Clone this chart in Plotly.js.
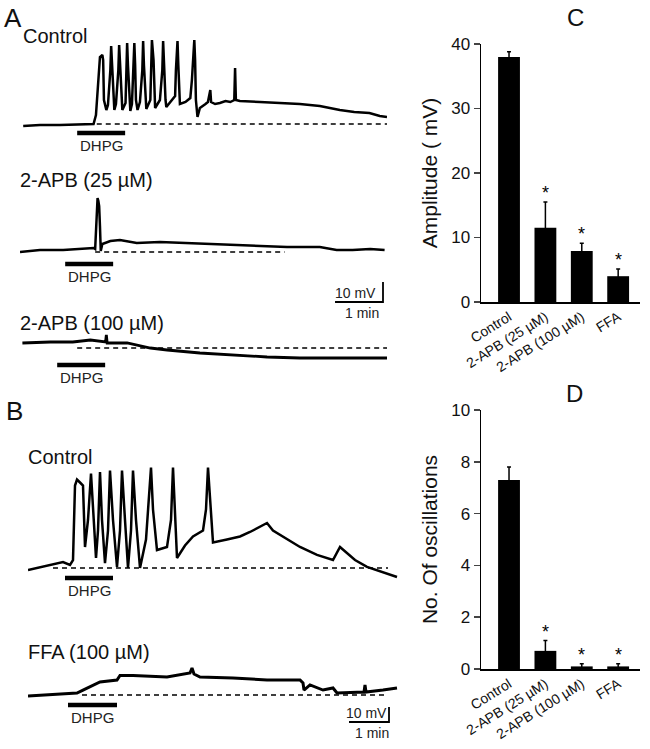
<!DOCTYPE html>
<html>
<head>
<meta charset="utf-8">
<script src="https://cdn.plot.ly/plotly-3.0.1.min.js"></script>
<style>html,body{margin:0;padding:0;background:#fff}</style>
</head>
<body>
<div id="chart" style="width:650px;height:749px"></div>
<script>
// ---- C / D bar values ----
const groups = ['Control', '2-APB (25 µM)', '2-APB (100 µM)', 'FFA'];
const ampMean = [38.0, 11.5, 7.9, 4.0];
const ampErr = [0.8, 4.0, 1.2, 1.1];
const oscMean = [7.3, 0.7, 0.1, 0.1];
const oscErr = [0.5, 0.4, 0.1, 0.1];
const signif = [false, true, true, true];

// ---- A traces: time (s), membrane potential re. baseline (mV) ----
const aCtrlT = [0,21,46,71,88,91,94,96,99,100,101,104,106,109,110,111,113,114,116,119,120,121,123,124,128,129,130,131,133,134,136,138,139,140,141,143,146,149,150,151,153,154,159,160,161,163,164,165,171,174,175,176,178,179,184,190,191,193,194,195,196,203,209,211,214,215,216,218,221,228,231,234,235,240,246,253,259,264,265,266,271,296,321,346,371,384,396,414,433,446,455];
const aCtrlV = [-0.5,0,0,0.5,0.5,5,22.5,34,35,32.5,12.5,7.5,10,27.5,39.5,32.5,12.5,7.5,10.5,27.5,40,30,12.5,7.5,11,27.5,41,30,12.5,7,10.5,27.5,41,30,12.5,7.5,11.5,27.5,42,30,12.5,8,12.5,27.5,42.5,32.5,12.5,8.5,12.5,27.5,42,30,12.5,9,11.5,14.5,27.5,42,30,13.5,10.5,11.5,13.5,22.5,42.5,32.5,12.5,4,8.5,10.5,11.5,17.5,11.5,10.5,11,12,11.5,12.5,28.5,12.5,12,11.5,11,10.5,9.5,8.5,7.5,6.5,6,4.5,4];

const a25T = [-4,21,50,80,88,90,91,92,93,94,95,96,97,99,109,121,142,171,205,246,287,330,371,392,412,434,452];
const a25V = [-1,0,0,1,1,0.5,10,24,26,24.5,22,12,-0.5,3,4.5,5,3.5,4,3.5,3,2.5,1.5,1.5,0,0,0.5,0];

const a100T = [-1,34,62,84,103,104,105,130,159,180,221,262,305,346,388,430,455];
const a100V = [2.5,3,3,4,3,6.5,2.5,2.5,0,-1,-2.5,-3.5,-4.5,-5,-5,-5,-5];

// ---- B traces ----
const bCtrlT = [0,33,52.5,63,67.5,70.5,73.5,78,82.5,85.5,90,94.5,97.5,102,105,108,111,115.5,120,123,127.5,133.5,138,141,145.5,150,154.5,157.5,162,168,177,184.5,187.5,193.5,208.5,214.5,217.5,220.5,223.5,235.5,247.5,262.5,267,270,273,277.5,298.5,318,333,358.5,367.5,382.5,408,433.5,457.5,468,478.5,490.5,508.5,532.5,553.5];
const bCtrlV = [-1.3,2,4,2,5.3,55,59,57,55,14,32,63,39,6.7,25,64,32,3.3,25,65,32,0.7,25,65,32,0,25,65,32,0,19,67,39,12,14,32,67,39,6.7,15,21,25,39,67,45,17,19,21,24,30,25,21,14,8.7,5.3,14,10,5.3,0.7,-2.7,-6];

const ffaT = [0,33,73.5,82.5,93,108,133.5,138,157.5,208.5,243,246,249,258,307.5,358.5,408,412.5,414,423,442.5,457.5,463.5,498,504,505.5,507,532.5,553.5];
const ffaV = [-0.7,0,1.3,3.3,5.3,8.7,10,13,13,12,14.7,18,14,12,11.3,10,10,8,3.3,6.7,3.3,4.7,1.3,2,2,6.7,2,3.3,4.7];

// DHPG application windows (s) and dashed baselines (s)
const dhpgA1 = [67.5, 127.5], dhpgA2 = [52.5, 112.5], dhpgA3 = [42.5, 102.5];
const dhpgB1 = [55.5, 127.5], dhpgB2 = [60, 133.5];
const baseA1 = [92, 455], baseA2 = [90, 327], baseA3 = [67.5, 455];
const baseB1 = [37.5, 540], baseB2 = [81, 540];

// scale bars
const scaleSec = 60, scaleMV = 10;

const W = 650, H = 749;
const FONT = 'Liberation Sans, Arial, sans-serif';
const dom = (top, bottom) => [1 - bottom / H, 1 - top / H];
const xdom = (l, r) => [l / W, r / W];

const traces = [];
const annotations = [];
function line(x, y, xa, ya, w, dash) {
  traces.push({type: 'scatter', mode: 'lines', x: x, y: y, xaxis: xa, yaxis: ya,
    line: {color: '#000', width: w, dash: dash || 'solid'}, hoverinfo: 'skip'});
}
function recording(t, v, base, baseLevel, dhpg, dhpgLevel, xa, ya, w) {
  line(t, v, xa, ya, w);
  line(base, [baseLevel, baseLevel], xa, ya, 1.5, '5px,4px');
  line(dhpg, [dhpgLevel, dhpgLevel], xa, ya, 4.5);
  annotations.push({x: (dhpg[0] + dhpg[1]) / 2, y: dhpgLevel, xref: xa, yref: ya,
    text: 'DHPG', showarrow: false, yanchor: 'top', yshift: -2,
    font: {family: FONT, size: 15, color: '#222'}});
}
function scaleBar(t0, xa, ya) {
  line([t0, t0 + scaleSec, t0 + scaleSec], [0, 0, scaleMV], xa, ya, 1.8);
  annotations.push({x: t0 + scaleSec / 2 - 4, y: 0, xref: xa, yref: ya, text: '10 mV',
    showarrow: false, yanchor: 'bottom', yshift: -1, font: {family: FONT, size: 14, color: '#222'}});
  annotations.push({x: t0 + scaleSec / 2 + 4, y: 0, xref: xa, yref: ya, text: '1 min',
    showarrow: false, yanchor: 'top', yshift: -1, font: {family: FONT, size: 14, color: '#222'}});
}

recording(aCtrlT, aCtrlV, baseA1, 0.5, dhpgA1, -4, 'x', 'y', 2.5);
recording(a25T, a25V, baseA2, -1, dhpgA2, -7, 'x', 'y2', 2.5);
recording(a100T, a100V, baseA3, 0, dhpgA3, -8.5, 'x', 'y3', 2.8);
scaleBar(390, 'x', 'y4');
recording(bCtrlT, bCtrlV, baseB1, 0, dhpgB1, -6.7, 'x2', 'y5', 2.5);
recording(ffaT, ffaV, baseB2, 0, dhpgB2, -6.7, 'x2', 'y6', 3);
scaleBar(481.5, 'x2', 'y7');

// bar charts
const errStyle = {type: 'data', color: '#000', thickness: 1.5, width: 2};
traces.push({type: 'bar', x: groups, y: ampMean, xaxis: 'x3', yaxis: 'y8', width: 0.6,
  marker: {color: '#000'}, error_y: Object.assign({array: ampErr}, errStyle)});
traces.push({type: 'bar', x: groups, y: oscMean, xaxis: 'x4', yaxis: 'y9', width: 0.6,
  marker: {color: '#000'}, error_y: Object.assign({array: oscErr}, errStyle)});
groups.forEach((g, i) => {
  if (!signif[i]) return;
  annotations.push({x: g, y: ampMean[i] + ampErr[i], xref: 'x3', yref: 'y8', text: '*',
    showarrow: false, yanchor: 'bottom', yshift: -3, font: {family: FONT, size: 18, color: '#000'}});
  annotations.push({x: g, y: oscMean[i] + oscErr[i], xref: 'x4', yref: 'y9', text: '*',
    showarrow: false, yanchor: 'bottom', yshift: -3, font: {family: FONT, size: 18, color: '#000'}});
});

// text labels
function label(text, px, py, size, anchor) {
  annotations.push({x: px / W, y: 1 - py / H, xref: 'paper', yref: 'paper', text: text,
    showarrow: false, xanchor: anchor || 'left', yanchor: 'middle',
    font: {family: FONT, size: size, color: '#111'}});
}
label('A', 13, 18, 26, 'center');
label('Control', 21, 36, 20);
label('2-APB (25 µM)', 18, 180, 20);
label('2-APB (100 µM)', 18, 323, 20);
label('B', 14, 411, 26, 'center');
label('Control', 26, 457, 20);
label('FFA (100 µM)', 26, 652, 20);
label('C', 575, 18, 24, 'center');
label('D', 574, 393, 24, 'center');

const hidden = (domain, range, anchor) => ({visible: false, domain: domain, range: range, anchor: anchor, fixedrange: true});
const valAxis = (domain, range, dtick, title, anchor) => ({
  domain: domain, range: range, dtick: dtick, anchor: anchor,
  showline: true, linewidth: 1.5, linecolor: '#000', ticks: 'outside', ticklen: 6, tickwidth: 1.5,
  showgrid: false, zeroline: false, tickfont: {family: FONT, size: 17, color: '#111'},
  title: {text: title, font: {family: FONT, size: 21, color: '#111'}, standoff: 8}
});
const catAxis = (anchor) => ({
  domain: xdom(481, 640), range: [-0.77, 3.6], type: 'category', anchor: anchor,
  showline: true, linewidth: 1.5, linecolor: '#000', ticks: '', tickangle: -32,
  showgrid: false, tickfont: {family: FONT, size: 14, color: '#111'}
});

const layout = {
  width: W, height: H, margin: {l: 0, r: 0, t: 0, b: 0},
  paper_bgcolor: '#fff', plot_bgcolor: 'rgba(0,0,0,0)', showlegend: false,
  font: {family: FONT},
  xaxis: hidden(xdom(20, 387), [-4, 455], 'y'),
  xaxis2: hidden(xdom(28, 398), [0, 555], 'y5'),
  yaxis: hidden(dom(30, 140), [-7.5, 47.5], 'x'),
  yaxis2: hidden(dom(180, 270), [-10, 35], 'x'),
  yaxis3: hidden(dom(325, 390), [-21, 11.5], 'x'),
  yaxis4: hidden(dom(270, 310), [-4, 16], 'x'),
  yaxis5: hidden(dom(455, 590), [-14.67, 75.33], 'x2'),
  yaxis6: hidden(dom(660, 712), [-11.33, 23.33], 'x2'),
  yaxis7: hidden(dom(698, 730), [-5.33, 16], 'x2'),
  xaxis3: catAxis('y8'),
  yaxis8: valAxis(dom(44, 302), [0, 40], 10, 'Amplitude ( mV)', 'x3'),
  xaxis4: catAxis('y9'),
  yaxis9: valAxis(dom(410, 669), [0, 10], 2, 'No. Of oscillations', 'x4'),
  annotations: annotations
};

Plotly.newPlot('chart', traces, layout, {staticPlot: true, displayModeBar: false});
</script>
</body>
</html>
